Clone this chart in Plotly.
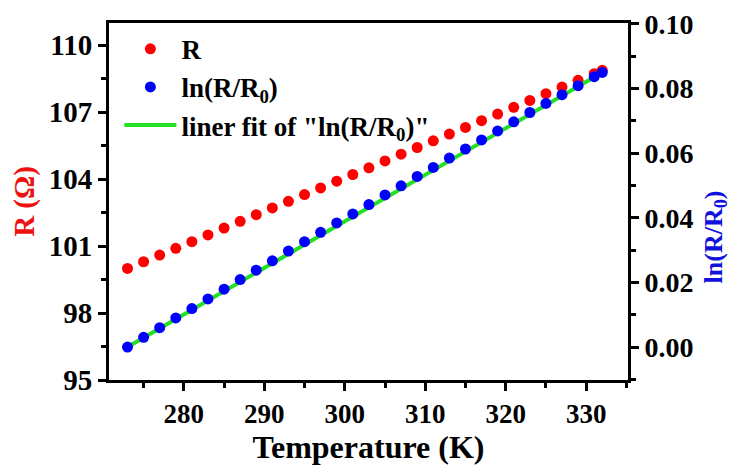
import plotly.graph_objects as go

temperature = [273, 275, 277, 279, 281, 283, 285, 287, 289, 291, 293, 295, 297, 299, 301,
               303, 305, 307, 309, 311, 313, 315, 317, 319, 321, 323, 325, 327, 329, 331, 332]
resistance = [100.00, 100.30, 100.60, 100.90, 101.20, 101.50, 101.81, 102.11, 102.41, 102.71,
              103.01, 103.31, 103.61, 103.91, 104.21, 104.51, 104.82, 105.12, 105.42, 105.72,
              106.02, 106.32, 106.62, 106.92, 107.22, 107.53, 107.83, 108.13, 108.43, 108.73, 108.88]
ln_ratio = [0.0000, 0.0030, 0.0060, 0.0090, 0.0119, 0.0149, 0.0179, 0.0209, 0.0238, 0.0267,
            0.0297, 0.0326, 0.0355, 0.0384, 0.0412, 0.0441, 0.0471, 0.0499, 0.0528, 0.0556,
            0.0585, 0.0613, 0.0641, 0.0669, 0.0697, 0.0726, 0.0754, 0.0781, 0.0809, 0.0837, 0.0850]
fit_T = [273, 332]
fit_y = [0.0000, 0.0850]

x_ticks = [280, 290, 300, 310, 320, 330]
y_ticks = [95, 98, 101, 104, 107, 110]
y2_ticks = [0.00, 0.02, 0.04, 0.06, 0.08, 0.10]
y2_ticklabels = ["0.00", "0.02", "0.04", "0.06", "0.08", "0.10"]

FONT = "Liberation Serif"

fig = go.Figure()
fig.add_trace(go.Scatter(x=temperature, y=resistance, mode="markers", name="R",
                         marker=dict(color="#ff0000", size=11), yaxis="y", legendrank=1))
fig.add_trace(go.Scatter(x=fit_T, y=fit_y, mode="lines", name='liner fit of "ln(R/R<sub>0</sub>)"',
                         line=dict(color="#22e022", width=4), yaxis="y2", legendrank=3))
fig.add_trace(go.Scatter(x=temperature, y=ln_ratio, mode="markers", name="ln(R/R<sub>0</sub>)",
                         marker=dict(color="#0000ff", size=11), yaxis="y2", legendrank=2))

axis_common = dict(showline=True, linecolor="black", linewidth=3, ticks="outside",
                   tickwidth=3, ticklen=8, tickcolor="black", showgrid=False, zeroline=False,
                   automargin=False)

# page body has an 8px offset, so the figure is sized 8px smaller than the window
fig.update_layout(
    width=733, height=458,
    margin=dict(l=101, r=113, t=15, b=86, autoexpand=False),
    paper_bgcolor="white", plot_bgcolor="white",
    font=dict(family=FONT, color="black"),
    xaxis=dict(range=[270.7, 335.2], tickvals=x_ticks, mirror=True,
               tickfont=dict(family=FONT, size=27, color="black", weight="bold"),
               minor=dict(dtick=5, tick0=275, ticks="outside", ticklen=5, tickwidth=3, tickcolor="black"),
               title=dict(text="Temperature (K)", font=dict(family=FONT, size=32, color="black", weight="bold"), standoff=4),
               **axis_common),
    yaxis=dict(range=[95, 111], tickvals=y_ticks,
               tickfont=dict(family=FONT, size=29, color="black", weight="bold"),
               minor=dict(dtick=1.5, tick0=95, ticks="outside", ticklen=5, tickwidth=3, tickcolor="black"),
               title=dict(text="R (Ω)", font=dict(family=FONT, size=29, color="#ee1111", weight="bold"), standoff=8),
               **axis_common),
    yaxis2=dict(range=[-0.0102, 0.1003], tickvals=y2_ticks, ticktext=y2_ticklabels, overlaying="y", side="right",
                tickfont=dict(family=FONT, size=28, color="black", weight="bold"),
                minor=dict(dtick=0.01, tick0=0, ticks="outside", ticklen=5, tickwidth=3, tickcolor="black"),
                **axis_common),
    legend=dict(x=0.02, y=0.995, xanchor="left", yanchor="top", bgcolor="rgba(0,0,0,0)",
                font=dict(family=FONT, size=27, color="black", weight="bold"), itemwidth=52, tracegroupgap=0),
    showlegend=True,
    annotations=[dict(text="ln(R/R<sub>0</sub>)", xref="paper", yref="paper", x=1.168, y=0.40,
                      xanchor="center", yanchor="middle", textangle=-90, showarrow=False,
                      font=dict(family=FONT, size=26, color="#1111dd", weight="bold"))],
)

fig.write_html("out.html")
